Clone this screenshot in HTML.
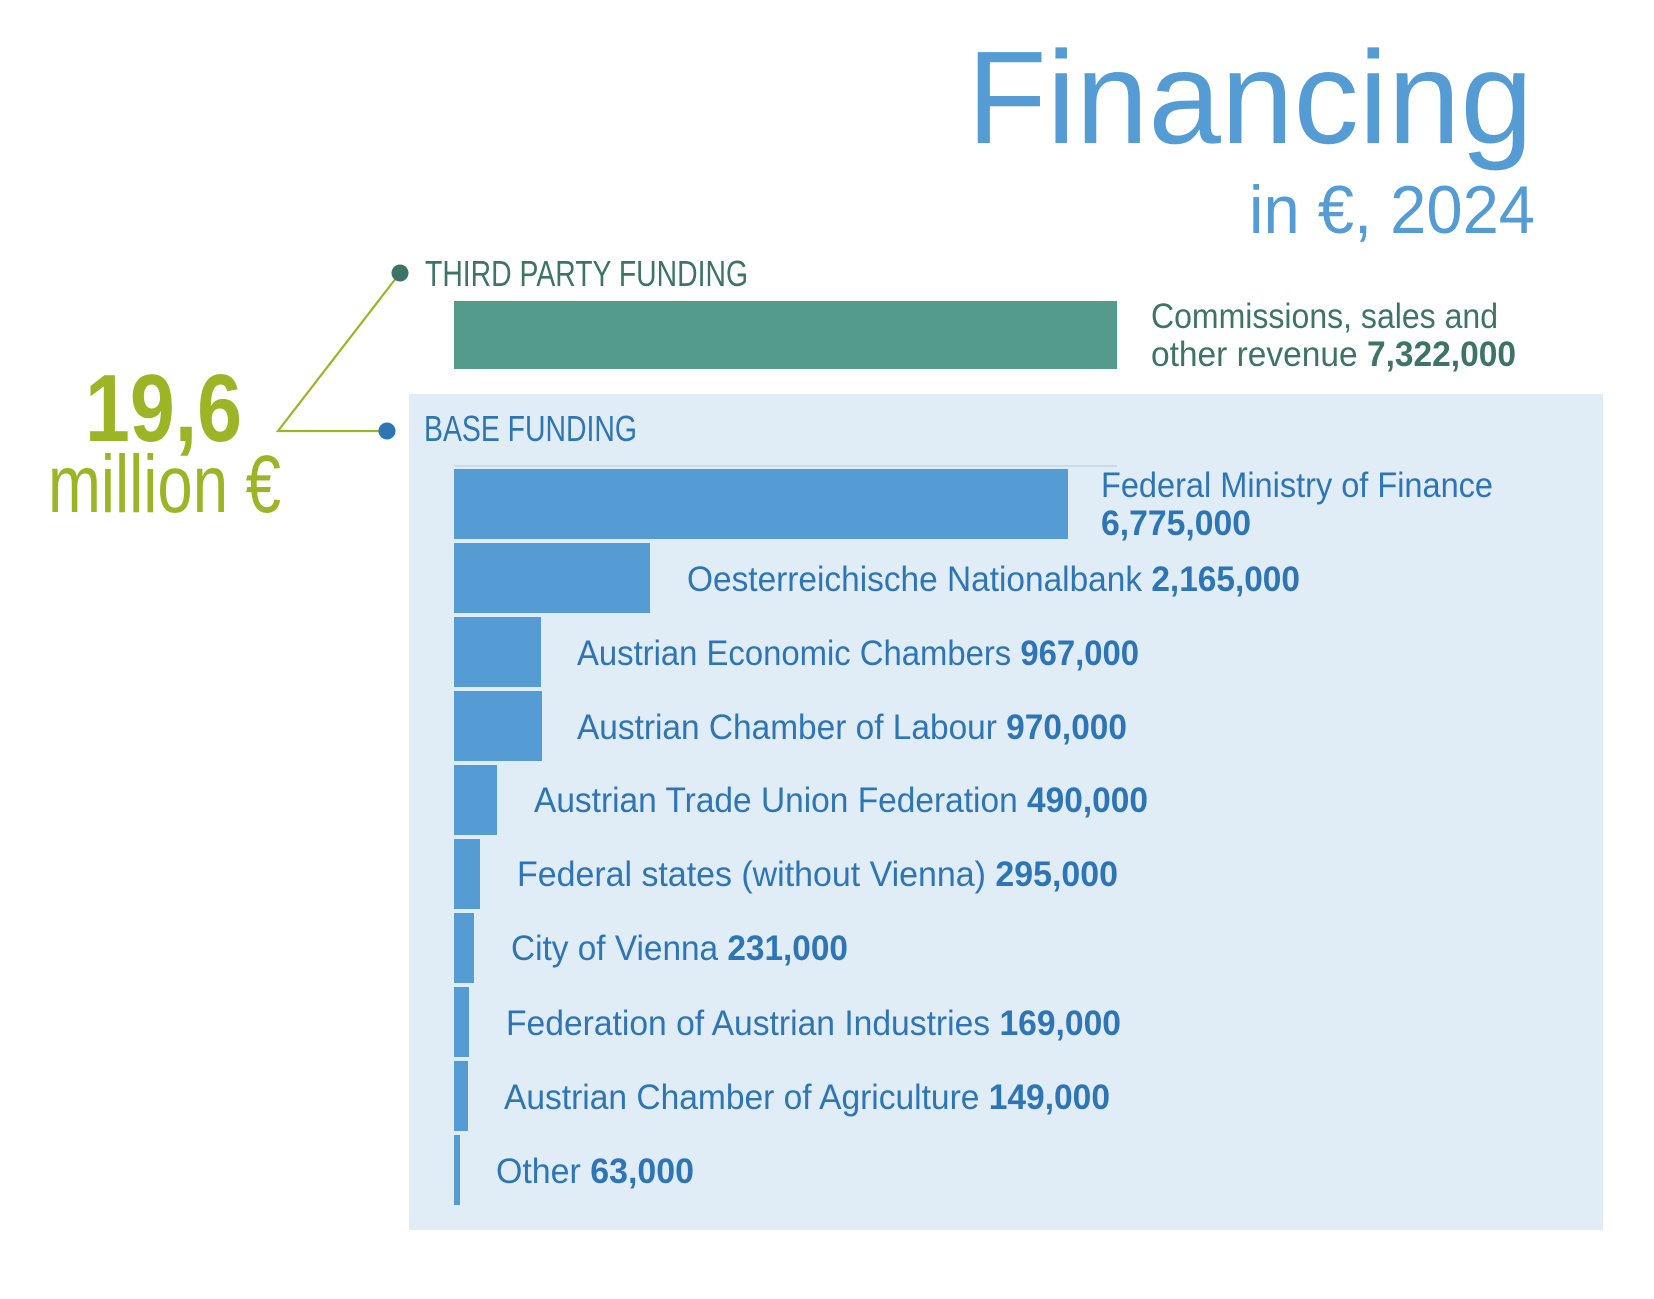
<!DOCTYPE html>
<html><head><meta charset="utf-8"><style>
html,body{margin:0;padding:0;background:#fff}
svg{display:block}
text{font-family:"Liberation Sans Narrow","Liberation Sans",sans-serif}
</style></head><body>
<svg width="1654" height="1299" viewBox="0 0 1654 1299" xmlns="http://www.w3.org/2000/svg">
<rect width="1654" height="1299" fill="#fff"/>
<text x="967" y="143" font-size="132" fill="#559bd4" textLength="566" lengthAdjust="spacingAndGlyphs">Financing</text>
<text x="1249" y="233" font-size="68" fill="#559bd4" textLength="286" lengthAdjust="spacingAndGlyphs">in €, 2024</text>

<rect x="409" y="394" width="1194" height="836" fill="#e0ecf6"/>

<polyline points="400,273 278,431 387,431" fill="none" stroke="#9bb526" stroke-width="2.2"/>
<circle cx="400" cy="273" r="8.5" fill="#3d7466"/>
<circle cx="387" cy="431" r="8.5" fill="#2e75b6"/>

<text x="85" y="441" font-size="96" font-weight="bold" fill="#9bb526" textLength="157" lengthAdjust="spacingAndGlyphs">19,6</text>
<text x="48" y="512" font-size="82" fill="#9bb526" textLength="233" lengthAdjust="spacingAndGlyphs">million €</text>

<text x="425" y="286" font-size="36" fill="#3d7466" textLength="323" lengthAdjust="spacingAndGlyphs">THIRD PARTY FUNDING</text>
<rect x="454" y="301" width="663" height="68" fill="#559b8c"/>
<text x="1151" y="328" font-size="35" fill="#3d7466" textLength="347" lengthAdjust="spacingAndGlyphs">Commissions, sales and</text>
<text x="1151" y="366" font-size="35" fill="#3d7466" textLength="365" lengthAdjust="spacingAndGlyphs">other revenue <tspan font-weight="bold">7,322,000</tspan></text>

<text x="424" y="441" font-size="36" fill="#2e75b6" textLength="213" lengthAdjust="spacingAndGlyphs">BASE FUNDING</text>
<rect x="454" y="465" width="663" height="2" fill="#c9dcee"/>

<g fill="#559bd4">
<rect x="454" y="469" width="614" height="70"/>
<rect x="454" y="543" width="196" height="70"/>
<rect x="454" y="617" width="87" height="70"/>
<rect x="454" y="691" width="88" height="70"/>
<rect x="454" y="765" width="43" height="70"/>
<rect x="454" y="839" width="26" height="70"/>
<rect x="454" y="913" width="20" height="70"/>
<rect x="454" y="987" width="15" height="70"/>
<rect x="454" y="1061" width="14" height="70"/>
<rect x="454" y="1135" width="6" height="70"/>
</g>

<g font-size="35" fill="#2e75b6">
<text x="1101" y="497" textLength="392" lengthAdjust="spacingAndGlyphs">Federal Ministry of Finance</text>
<text x="1101" y="535" font-weight="bold" textLength="150" lengthAdjust="spacingAndGlyphs">6,775,000</text>
<text x="687" y="591" textLength="613" lengthAdjust="spacingAndGlyphs">Oesterreichische Nationalbank <tspan font-weight="bold">2,165,000</tspan></text>
<text x="577" y="665" textLength="562" lengthAdjust="spacingAndGlyphs">Austrian Economic Chambers <tspan font-weight="bold">967,000</tspan></text>
<text x="577" y="739" textLength="550" lengthAdjust="spacingAndGlyphs">Austrian Chamber of Labour <tspan font-weight="bold">970,000</tspan></text>
<text x="534" y="812" textLength="614" lengthAdjust="spacingAndGlyphs">Austrian Trade Union Federation <tspan font-weight="bold">490,000</tspan></text>
<text x="517" y="886" textLength="601" lengthAdjust="spacingAndGlyphs">Federal states (without Vienna) <tspan font-weight="bold">295,000</tspan></text>
<text x="511" y="960" textLength="337" lengthAdjust="spacingAndGlyphs">City of Vienna <tspan font-weight="bold">231,000</tspan></text>
<text x="506" y="1035" textLength="615" lengthAdjust="spacingAndGlyphs">Federation of Austrian Industries <tspan font-weight="bold">169,000</tspan></text>
<text x="504" y="1109" textLength="606" lengthAdjust="spacingAndGlyphs">Austrian Chamber of Agriculture <tspan font-weight="bold">149,000</tspan></text>
<text x="496" y="1183" textLength="198" lengthAdjust="spacingAndGlyphs">Other <tspan font-weight="bold">63,000</tspan></text>
</g>
</svg>
</body></html>
